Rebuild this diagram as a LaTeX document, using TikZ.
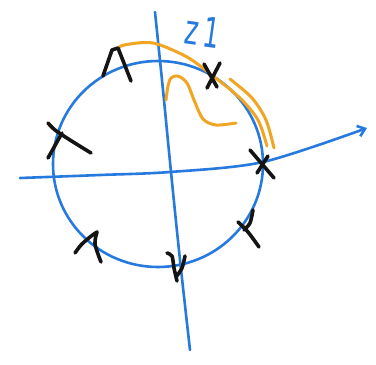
\documentclass[tikz,border=0pt]{standalone}
\usepackage{fontspec}
\setmainfont{DejaVu Sans}
\usetikzlibrary{arrows.meta}
\definecolor{penblue}{RGB}{38,122,222}
\definecolor{penorange}{RGB}{240,165,35}
\definecolor{penblack}{RGB}{20,20,20}
\tikzset{
  bluepen/.style={draw=penblue,line width=2.6pt,line cap=round,line join=round},
  orangepen/.style={draw=penorange,line width=3pt,line cap=round,line join=round},
  blackpen/.style={draw=penblack,line width=3.6pt,line cap=round,line join=round}
}
\begin{document}
\begin{tikzpicture}[x=1pt,y=-1pt]
\useasboundingbox (0,0) rectangle (376,365);
\fill[white] (0,0) rectangle (376,365);
% circle
\draw[bluepen] (158,164) ellipse [x radius=105, y radius=103];
% axes
\draw[bluepen] plot[smooth] coordinates {(155,12) (163,90) (171,172) (180,260) (190,350)};
\draw[bluepen,-{Straight Barb[length=7pt,width=11pt]}] plot[smooth] coordinates {(20,178) (100,175) (170,172) (263,162) (367,128)};
% label
\node[text=penblue,font=\fontsize{26}{26}\selectfont,rotate=-8,inner sep=0pt] (z1) at (203,31) {\scalebox{1}[1.6]{z\hspace{5pt}1}};
% orange arcs
\draw[orangepen] plot[smooth] coordinates {(118,49) (124,45) (153,43) (187,57) (213,76) (240,98) (258,120) (267,146)};
\draw[orangepen] plot[smooth] coordinates {(230,79) (252,98) (266,120) (274,148)};
\draw[orangepen] plot[smooth] coordinates {(166,100) (168,86) (171,78) (178,76) (187,83) (194,100) (203,119) (216,125) (236,123)};
% black marks
\draw[blackpen] (103,76) -- (112,50) -- (118,48) -- (131,81);
\draw[blackpen] (204,64) -- (217,87);
\draw[blackpen] (220,63) -- (207,88);
\draw[blackpen] plot[smooth] coordinates {(48,123) (55,130) (70,140) (91,153)};
\draw[blackpen] (62,133) -- (48,158);
\draw[blackpen] plot[smooth] coordinates {(250,150) (262,164) (274,178)};
\draw[blackpen] (268,156) -- (257,173);
\draw[blackpen] plot[smooth] coordinates {(75,253) (81,245) (90,237) (97,232)};
\draw[blackpen] plot[smooth] coordinates {(97,232) (95,244) (101,262)};
\draw[blackpen] plot[smooth] coordinates {(167,253) (172,256) (174,268) (177,281)};
\draw[blackpen] plot[smooth] coordinates {(185,256) (182,268) (176,277)};
\draw[blackpen] plot[smooth] coordinates {(253,210) (250,223) (244,230)};
\draw[blackpen] plot[smooth] coordinates {(238,222) (248,232) (259,247)};
\end{tikzpicture}
\end{document}
